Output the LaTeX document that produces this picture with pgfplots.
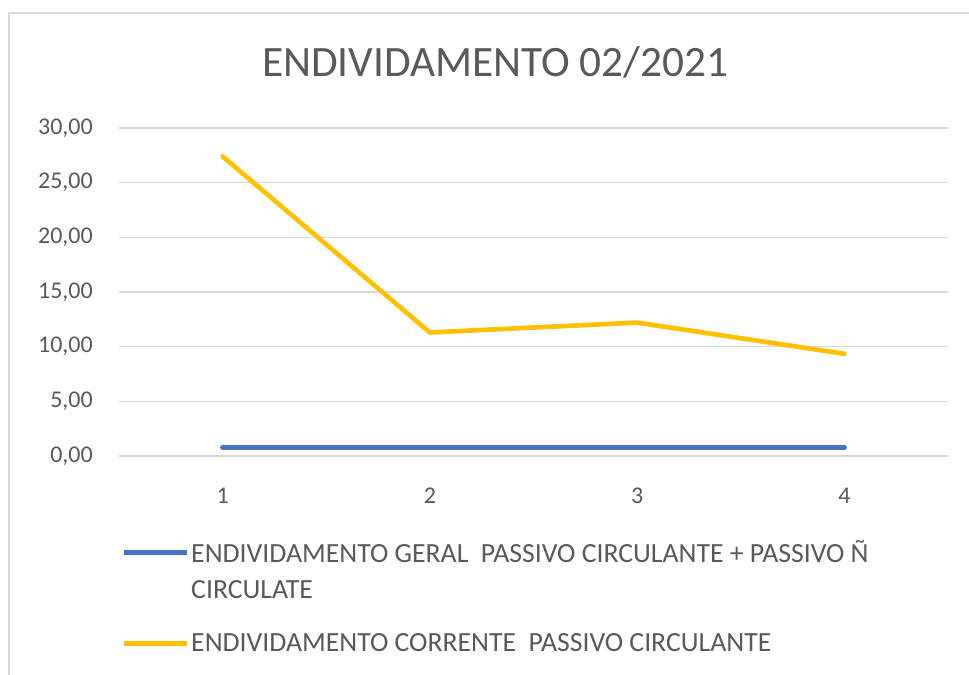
\documentclass[border=0pt]{standalone}
\usepackage{pgfplots}
\pgfplotsset{compat=1.18}
\usepackage{fontspec}
\setmainfont{Carlito}
\definecolor{txt}{HTML}{595959}
\definecolor{grd}{HTML}{D9D9D9}
\definecolor{cblue}{HTML}{4472C4}
\definecolor{corange}{HTML}{FFC000}
\definecolor{brd}{HTML}{D9D9D9}
\pgfplotsset{
  legA/.style={legend image code/.code={\draw[##1, line cap=butt] (0pt,13.5pt) -- (47.25pt,13.5pt);}},
  legB/.style={legend image code/.code={\draw[##1, line cap=butt] (0pt,0pt) -- (47.25pt,0pt);}},
}
\begin{document}
\begin{tikzpicture}
\useasboundingbox (0,0) rectangle (726.75pt,505.5pt);
\begin{scope}
\clip (0,0) rectangle (726.75pt,505.5pt);
\draw[brd, line width=1.5pt] (6.75pt,-5pt) -- (6.75pt,495.75pt) -- (740pt,495.75pt);
\end{scope}
\node[anchor=base, text=txt, font=\fontsize{32.5}{38}\selectfont, inner sep=0pt] at (371.5pt,447.75pt) {ENDIVIDAMENTO 02/2021};
\begin{axis}[
  at={(89.25pt,163.5pt)}, anchor=south west,
  scale only axis, width=621.75pt, height=246pt,
  xmin=0.5, xmax=4.5, ymin=0, ymax=30,
  xtick={1,2,3,4}, ytick={0,5,...,30},
  ymajorgrids, grid style={grd, line width=1pt},
  axis line style={draw=none}, major tick length=0pt,
  /pgf/number format/assume math mode=true,
  tick label style={font=\fontsize{18}{22}\selectfont, text=txt, inner sep=0pt},
  yticklabel style={anchor=east, xshift=-19.5pt, /pgf/number format/.cd, fixed, fixed zerofill, precision=2, use comma},
  xticklabel style={anchor=base, yshift=-35.25pt},
  legend style={at={(axis description cs:0.0035,-0.258)}, anchor=north west, draw=none, fill=none, inner sep=0pt, outer sep=0pt, font=\fontsize{20.8}{27}\selectfont, text=txt, nodes={inner sep=0pt, align=left}, row sep=24.5pt, column sep=1pt},
  legend cell align=left,
  clip=false,
]
\addplot[cblue, line width=3.75pt, line cap=round, line join=round, legA]
  coordinates {(1,0.82) (2,0.82) (3,0.82) (4,0.82)};
\addlegendentry{ENDIVIDAMENTO GERAL~ PASSIVO CIRCULANTE + PASSIVO Ñ\\CIRCULATE}
\addplot[corange, line width=3.5pt, line cap=round, line join=round, legB]
  coordinates {(1,27.4) (2,11.3) (3,12.2) (4,9.35)};
\addlegendentry{ENDIVIDAMENTO CORRENTE~ PASSIVO CIRCULANTE}
\end{axis}
\end{tikzpicture}
\end{document}
